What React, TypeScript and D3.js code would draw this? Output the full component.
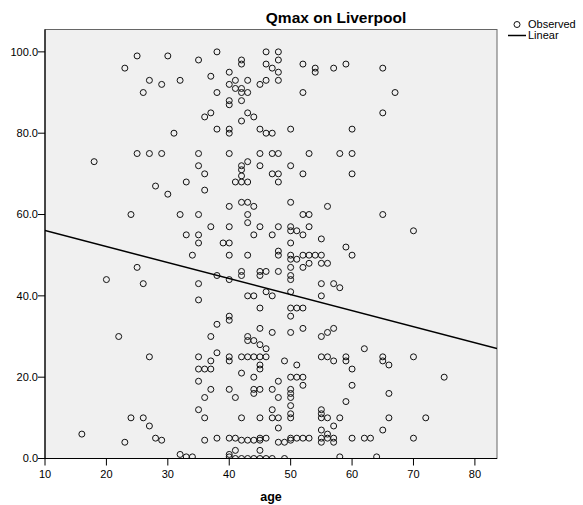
import React from 'react';
import * as d3 from 'd3';

// Observed points: [age, Qmax]
const observedUpper: [number, number][] = [
  [25,99],[30,99],[23,96],[35,98],[38,100],[42,98],[42,97],[46,100],[48,100],[48,98],
  [46,97],[47,96],[48,95],[48,93],[46,93],[45,92],[27,93],[29,92],[32,93],[26,90],
  [37,94],[40,95],[41,93],[43,93],[40,92],[41,91],[42,91],[42,90],[43,90],[38,90],
  [42,88],[40,88],[40,87],[37,85],[36,84],[43,85],[44,84],[42,83],[38,81],[40,81],
  [40,80],[45,81],[46,80],[47,80],[31,80],[18,73],[25,75],[27,75],[29,75],[35,75],
  [40,75],[45,75],[47,75],[48,75],[35,72],[36,70],[43,73],[42,72],[42,71],[42,69.5],
  [45,72],[47,70],[48,70],[48,68],[41,68],[42,68],[43,68],[33,68],[28,67],[30,65],
  [36,66],[40,62],[42,63],[43,63],[44,62],[43,60],[43,58],[24,60],[32,60],[35,60],
  [37,57],[40,57],[45,57],[48,57],
  [52,97],[54,96],[54,95],[57,96],[59,97],[65,96],[52,90],[67,90],[65,85],[50,81],
  [60,81],[53,75],[58,75],[60,75],[50,72],[52,70],[60,70],[50,63],[56,62],[52,60],
  [53,60],[65,60],
];

const observedLowerLeft: [number, number][] = [
  [33,55],[35,55],[35,53],[44,55],[47,55],[39,53],[40,53],[48,51],[48,50],[34,50],
  [40,50],[43,50],[25,47],[20,44],[26,43],[35,43],[38,45],[40,44],[42,46],[42,45],
  [45,46],[45,45],[46,46],[48,46],[35,39],[43,40],[44,40],[46,41],[47,40],[45,37],
  [40,35],[40,34],[38,33],[37,30],[45,32],[47,31],[22,30],[43,30],[43,29],[44,29],
  [45,28],[46,27],[38,26],[27,25],[35,25],[40,25],[40,24],[42,25],[43,25],[44,25],
  [45,25],[46,25],[37,24],[35,22],[36,22],[37,22],[45,23],[45,22],[49,24],[42,21],
  [44,20],[35,19],[37,17],[36,15],[40,17],[41,15],[44,17],[44,16],[45,17],[47,17],
  [48,15],[48,19],[47,12],[35,12],[36,10],[42,10],[45,10],[47,10],[48,10],[48,7.5],
  [24,10],[26,10],[27,8],[28,5],[29,4.5],[16,6],[23,4],[36,4.5],[38,5],[40,5],
  [41,5],[42,4.5],[43,4.5],[44,4.5],[45,5],[45,4.5],[46,5],[48,4],[49,4],[41,2],
  [45,2],[32,1],[33,0.4],[34,0.4],[40,1],[40,0.4],[41,0],[42,0],[43,0],[44,0],
  [45,0],[46,0],[47,0],[49,0],
];

const observedLowerRight: [number, number][] = [
  [50,57],[50,56],[51,56],[53,57],[52,55],[55,54],[50,53],[70,56],[59,52],[60,50],
  [50,50],[52,50],[53,50],[54,50],[55,50],[51,49],[50,49],[53,48],[55,48],[56,48],
  [52,47],[50,47],[50,45],[50,44],[55,43],[57,43],[58,42],[50,41],[55,40],[50,37],
  [51,37],[52,37],[50,35],[50,31],[52,32],[55,30],[56,31],[57,32],[62,27],[51,23],
  [55,25],[56,25],[57,24],[59,25],[59,24],[60,22],[65,25],[65,24],[66,23],[70,25],
  [75,20],[50,20],[51,20],[52,20],[52,18],[60,18],[66,16],[59,14],[50,17],[50,16],
  [50,15],[50,13],[50,11],[55,12],[55,11],[50,10],[55,10],[56,10],[58,10],[66,10],
  [72,10],[57,8],[55,7],[56,6],[65,7],[50,5],[50,4.5],[51,5],[52,5],[53,5],
  [55,5],[55,4],[56,5],[57,5],[57,4],[60,5],[62,5],[63,5],[70,5],[58,0.4],
  [64,0.4],
];

const xTicks = [10, 20, 30, 40, 50, 60, 70, 80];
const yTicks = [0, 20, 40, 60, 80, 100];
const xDomain: [number, number] = [10, 83.6];
const yDomain: [number, number] = [0, 105.5];
const fitIntercept = 60.0;
const fitSlope = -0.394;
const legendItems = ['Observed', 'Linear'];

const FONT = '"Liberation Sans", Arial, Helvetica, sans-serif';

export default function App() {
  const L = 45, R = 497, T = 29.5, B = 458.5;
  const x = d3.scaleLinear().domain(xDomain).range([L, R]);
  const y = d3.scaleLinear().domain(yDomain).range([B, T]);
  const all = [...observedUpper, ...observedLowerLeft, ...observedLowerRight];
  const fit = (a: number) => fitIntercept + fitSlope * a;
  const line = d3.line<number>().x(a => x(a)).y(a => y(fit(a)));
  const fmt = d3.format('.1f');
  const legY0 = 24.5, legStep = 11;

  return (
    <svg width={583} height={505} style={{ position: 'absolute', left: 0, top: 0, background: '#fff' }} fontFamily={FONT}>
      <rect x={L} y={T} width={R - L} height={B - T} fill="#f0f0f0" stroke="#666" strokeWidth={1} />
      <defs>
        <clipPath id="plotclip"><rect x={L} y={T} width={R - L} height={B - T} /></clipPath>
      </defs>
      <g clipPath="url(#plotclip)">
        {all.map((d, i) => (
          <circle key={i} cx={x(d[0])} cy={y(d[1])} r={3} fill="none" stroke="#111" strokeWidth={1} />
        ))}
        <path d={line(xDomain) || ''} stroke="#000" strokeWidth={1.5} fill="none" />
      </g>
      {/* axes */}
      <line x1={L} x2={L} y1={T} y2={B} stroke="#000" strokeWidth={1.2} />
      <line x1={L} x2={R} y1={B} y2={B} stroke="#000" strokeWidth={1.2} />
      {yTicks.map(t => (
        <g key={'y' + t}>
          <line x1={L - 7} x2={L} y1={y(t)} y2={y(t)} stroke="#000" strokeWidth={1} />
          <text x={L - 7} y={y(t)} dy="0.35em" textAnchor="end" fontSize={11} fill="#000">{fmt(t)}</text>
        </g>
      ))}
      {xTicks.map(t => (
        <g key={'x' + t}>
          <line x1={x(t)} x2={x(t)} y1={B} y2={B + 7} stroke="#000" strokeWidth={1} />
          <text x={x(t)} y={B + 19} textAnchor="middle" fontSize={11} fill="#000">{t}</text>
        </g>
      ))}
      <text x={271} y={501} textAnchor="middle" fontSize={12.5} fontWeight="bold" fill="#000">age</text>
      <text x={336} y={23} textAnchor="middle" fontSize={15.5} fontWeight="bold" fill="#000">Qmax on Liverpool</text>
      {/* legend */}
      <circle cx={517} cy={legY0} r={3} fill="none" stroke="#111" strokeWidth={1} />
      <text x={528} y={legY0} dy="0.35em" fontSize={11} fill="#000">{legendItems[0]}</text>
      <line x1={508} x2={526} y1={legY0 + legStep} y2={legY0 + legStep} stroke="#000" strokeWidth={1.5} />
      <text x={528} y={legY0 + legStep} dy="0.35em" fontSize={11} fill="#000">{legendItems[1]}</text>
    </svg>
  );
}
